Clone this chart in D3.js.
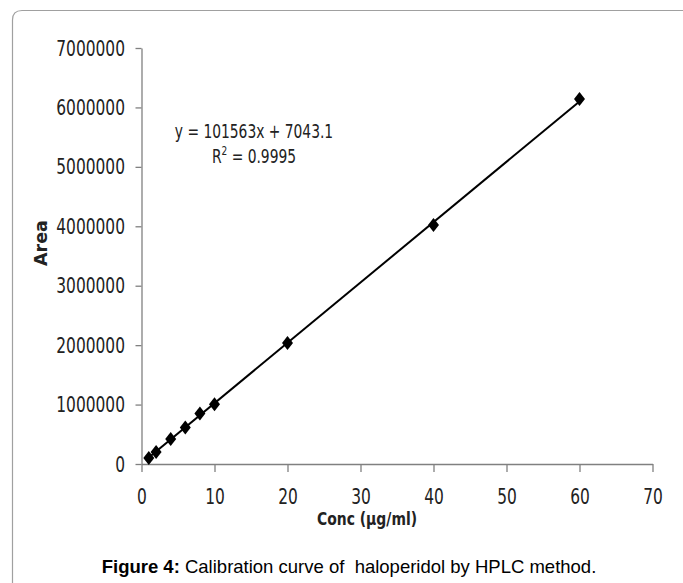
<!DOCTYPE html>
<html>
<head>
<meta charset="utf-8">
<script src="https://cdn.jsdelivr.net/npm/d3@7"></script>
<style>
body { margin: 0; background: #fff; }
</style>
</head>
<body>
<svg id="chart"></svg>
<script>
var width = 683;
var height = 583;

// calibration data
var conc = [1, 2, 4, 6, 8, 10, 20, 40, 60];
var area = [100000, 200000, 420000, 615000, 850000, 1005000, 2035000, 4020000, 6140000];
var xTicks = [0, 10, 20, 30, 40, 50, 60, 70];
var yTicks = [0, 1000000, 2000000, 3000000, 4000000, 5000000, 6000000, 7000000];
var slope = 101563;
var intercept = 7043.1;

var svg = d3.select("#chart")
.attr("width", width)
.attr("height", height);

// frame round the figure
svg.append("path")
.attr("d", "M12.5,583 L12.5,20 Q12.5,10.5 22,10.5 L683,10.5")
.style("fill", "none")
.style("stroke", "#a0a0a0")
.style("stroke-width", 1.2);

var x = d3.scaleLinear().domain([0, 70]).range([141.5, 652.5]);
var y = d3.scaleLinear().domain([0, 7000000]).range([464, 48]);

// narrow font, squeezed to look like the Calibri of the original
var narrow = "'DejaVu Sans Condensed', 'DejaVu Sans', sans-serif";
var squeeze = 0.78;

var xAxis = svg.append("g")
.attr("transform", "translate(0,464)")
.call(d3.axisBottom(x).tickValues(xTicks).tickSize(8).tickSizeOuter(0));

var yAxis = svg.append("g")
.attr("transform", "translate(141.5,0)")
.call(d3.axisLeft(y).tickValues(yTicks).tickSize(6).tickSizeOuter(0)
	.tickFormat(d3.format("d")));

[xAxis, yAxis].forEach(function (a) {
	a.select(".domain").style("stroke", "#808080").style("stroke-width", 1.3);
	a.selectAll(".tick line").style("stroke", "#808080").style("stroke-width", 1.3);
	a.selectAll(".tick text")
	.style("font-family", narrow)
	.style("font-size", "22px")
	.style("fill", "#222")
	.attr("transform", "scale(" + squeeze + ",1)");
});
xAxis.selectAll(".tick text").attr("y", 24);
yAxis.selectAll(".tick text").attr("x", -16.5 / squeeze);

// linear trendline over the data range
var line = d3.line()
.x(function (d) { return x(d); })
.y(function (d) { return y(slope * d + intercept); });

svg.append("path")
.datum([d3.min(conc), d3.max(conc)])
.attr("d", line)
.style("fill", "none")
.style("stroke", "#000")
.style("stroke-width", 2);

var diamond = {
	draw: function (context, size) {
		var w = Math.sqrt(size) * 0.44;
		var h = Math.sqrt(size) * 0.56;
		context.moveTo(0, -h);
		context.lineTo(w, 0);
		context.lineTo(0, h);
		context.lineTo(-w, 0);
		context.closePath();
	}
};

svg.selectAll(".pt")
.data(conc)
.enter().append("path")
.attr("class", "pt")
.attr("transform", function (d, i) {
	return "translate(" + x(d) + "," + y(area[i]) + ")";
})
.attr("d", d3.symbol().type(diamond).size(156))
.style("fill", "#000");

var eq = svg.append("g").attr("transform", "translate(254,0) scale(0.77,1)");

eq.append("text")
.attr("x", 0)
.attr("y", 138)
.style("font-family", narrow)
.style("font-size", "20px")
.style("text-anchor", "middle")
.style("fill", "#222")
.text("y = 101563x + 7043.1");

var r2 = eq.append("text")
.attr("x", 0)
.attr("y", 163)
.style("font-family", narrow)
.style("font-size", "20px")
.style("text-anchor", "middle")
.style("fill", "#222");
r2.append("tspan").text("R");
r2.append("tspan").attr("dy", -8).style("font-size", "13px").text("2");
r2.append("tspan").attr("dy", 8).text(" = 0.9995");

svg.append("text")
.attr("transform", "translate(47,243) rotate(-90)")
.style("font-family", "'DejaVu Sans', sans-serif")
.style("font-weight", "bold")
.style("font-size", "17.5px")
.style("text-anchor", "middle")
.style("fill", "#222")
.text("Area");

svg.append("text")
.attr("transform", "translate(367,525) scale(0.86,1)")
.style("font-family", narrow)
.style("font-weight", "bold")
.style("font-size", "18px")
.style("text-anchor", "middle")
.style("fill", "#222")
.text("Conc (µg/ml)");

var caption = svg.append("text")
.attr("x", 349)
.attr("y", 573)
.style("font-family", "'Liberation Sans', Arial, sans-serif")
.style("font-size", "18.5px")
.style("text-anchor", "middle")
.style("fill", "#000")
.attr("xml:space", "preserve");
caption.append("tspan").style("font-weight", "bold").text("Figure 4:");
caption.append("tspan").text(" Calibration curve of  haloperidol by HPLC method.");
</script>
</body>
</html>
